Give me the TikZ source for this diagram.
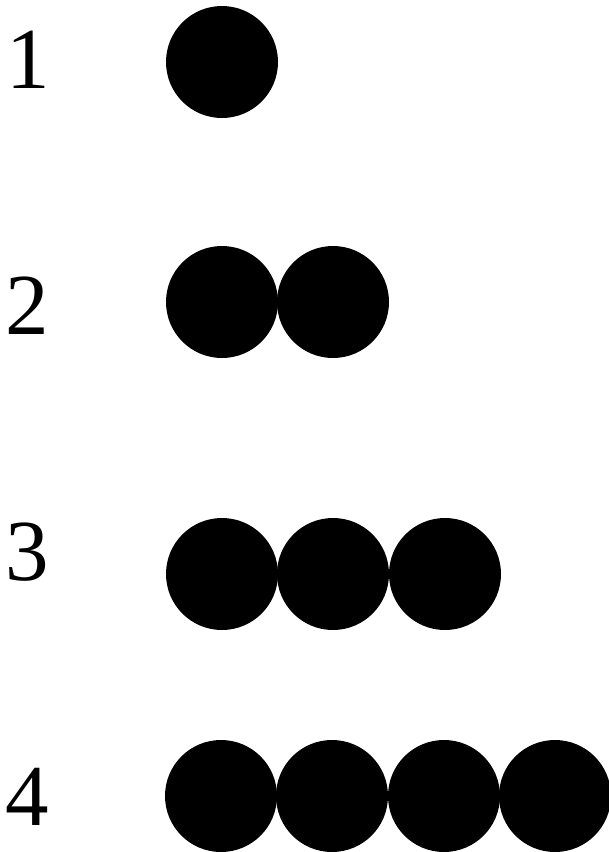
\documentclass[tikz,border=0pt]{standalone}
\usepackage{fontspec}
\setmainfont{Liberation Serif}
\begin{document}
\begin{tikzpicture}[x=1pt,y=1pt,
  dot/.style={circle,fill=black,inner sep=0pt,minimum size=112pt},
  num/.style={anchor=base,inner sep=0pt,font=\fontsize{87}{87}\selectfont}]
\useasboundingbox (0,0) rectangle (609,-852);
\clip (0,0) rectangle (609,-852);
\fill[white] (0,0) rectangle (609,-852);
\node[num] (n1) at (28,-88) {1};
\node[num] (n2) at (27.5,-334) {2};
\node[num] (n3) at (27,-580) {3};
\node[num] (n4) at (27,-825) {4};
\node[dot] (a1) at (222,-62) {};
\node[dot] (b1) at (222,-302) {};
\node[dot] (b2) at (333,-302) {};
\node[dot] (c1) at (222,-574) {};
\node[dot] (c2) at (333,-574) {};
\node[dot] (c3) at (445,-574) {};
\node[dot] (d1) at (221,-796) {};
\node[dot] (d2) at (332,-796) {};
\node[dot] (d3) at (444,-796) {};
\node[dot] (d4) at (555,-796) {};
\end{tikzpicture}
\end{document}
